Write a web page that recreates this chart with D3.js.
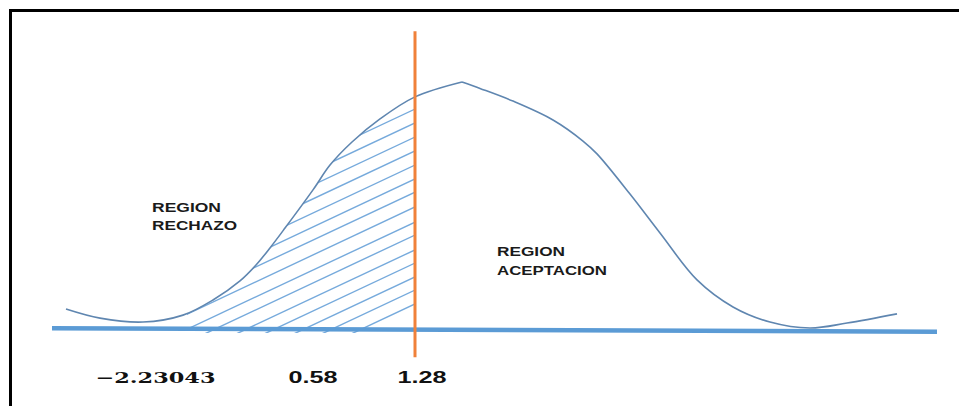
<!DOCTYPE html>
<html><head><meta charset="utf-8">
<script src="https://cdn.jsdelivr.net/npm/d3@7"></script>
<style>body{margin:0;background:#fff} svg{display:block}</style>
</head><body><svg id="c" width="959" height="406"></svg>
<script>
// ---- data (z: position along the axis, v: curve height, 0 = baseline, 100 = peak)
const curveZ = [-3.96,-3.62,-3.19,-2.79,-2.49,-2.22,-2.06,-1.92,-1.77,-1.49,-1.32,-1.10,-0.82,-0.47,0,0.18,0.51,0.91,1.21,1.35,1.68,1.98,2.35,2.71,3.08,3.48,3.85,4.35];
const curveV = [8.5,4.8,3.2,6.0,12.1,19.8,26.2,33.1,41.1,56.5,66.5,75.8,85.1,94.0,100,97.4,92.3,84.7,76.2,71.0,54.8,39.1,20.2,9.3,3.2,0.8,2.8,6.5];
const baselineZ = [-4.1, 4.75];
const baselineV = [0.7, -0.7];
const criticalZ = -0.47;           // orange line (1.28)
const criticalV = [120.5, -11];
const hatchStartZ = -2.75;          // shaded rejection region start
const hatchEndV = [89.1,83.5,77.8,72.2,66.5,60.9,55.6,49.6,43.5,38.3,32.3,27.0,21.4,16.1,10.5];
const tickZ = [-3.07, -1.495, -0.405];
const tickLabels = ["\u22122.23043", "0.58", "1.28"];
const regionLabels = [["REGION","RECHAZO"],["REGION","ACEPTACION"]];
const regionZ = [-3.1, 0.35];
const regionV = [47.6, 29.8];

// ---- scales
const x = d3.scaleLinear().domain([-4, 4]).range([62, 862]);
const y = d3.scaleLinear().domain([0, 100]).range([330, 82]);

const svg = d3.select("#c");
svg.append("rect").attr("width",959).attr("height",406).attr("fill","#fff");
// frame
svg.append("rect").attr("x",10.5).attr("y",10.5).attr("width",970).attr("height",420)
  .attr("fill","none").attr("stroke","#000").attr("stroke-width",3);

const pts = curveZ.map((z,i)=>({z, v: curveV[i]}));
const peakIdx = d3.maxIndex(pts, d=>d.v);
const crv = d3.curveCatmullRom.alpha(0.5);

// clip: area under curve, between hatchStart and critical value
const defs = svg.append("defs");
defs.append("clipPath").attr("id","under").append("path")
  .attr("d", d3.area().x(d=>x(d.z)).y0(y(0)+3).y1(d=>y(d.v)).curve(crv)(pts.slice(0, peakIdx+1)));
defs.append("clipPath").attr("id","band").append("rect")
  .attr("x", x(hatchStartZ)).attr("y", 0).attr("width", x(criticalZ)-x(hatchStartZ)).attr("height", 406);

const slope = 0.47, len = 420;
svg.append("g").attr("clip-path","url(#band)")
  .append("g").attr("clip-path","url(#under)")
  .selectAll("line").data(hatchEndV).join("line")
  .attr("x1", x(criticalZ)).attr("y1", d=>y(d))
  .attr("x2", x(criticalZ)-len).attr("y2", d=>y(d)+len*slope)
  .attr("stroke","#76AADC").attr("stroke-width",1.4);

// curve (two parts for the pointed peak)
const line = d3.line().x(d=>x(d.z)).y(d=>y(d.v)).curve(crv);
[pts.slice(0, peakIdx+1), pts.slice(peakIdx)].forEach(seg=>{
  svg.append("path").attr("d", line(seg)).attr("fill","none")
    .attr("stroke","#5F86B0").attr("stroke-width",1.6);
});

// baseline
svg.append("path")
  .attr("d", d3.line().x(d=>x(d[0])).y(d=>y(d[1]))(baselineZ.map((z,i)=>[z, baselineV[i]])))
  .attr("stroke","#5B9BD5").attr("stroke-width",4.5).attr("fill","none");

// critical line
svg.append("line").attr("x1",x(criticalZ)).attr("x2",x(criticalZ))
  .attr("y1",y(criticalV[0])).attr("y2",y(criticalV[1]))
  .attr("stroke","#F0813A").attr("stroke-width",3);

// axis labels
const ax = svg.append("g").attr("transform","translate(0,383)")
  .call(d3.axisBottom(x).tickValues(tickZ).tickFormat((d,i)=>tickLabels[i]).tickSize(0));
ax.select(".domain").remove();
const tickW = [120, 49, 49];
ax.selectAll("text").attr("y",0).attr("dy",0).attr("fill","#111")
  .attr("font-weight","bold")
  .attr("font-family",(d,i)=> i===0 ? "DejaVu Serif" : "Liberation Sans")
  .attr("font-size",(d,i)=> i===0 ? 15 : 17)
  .attr("textLength",(d,i)=>tickW[i]).attr("lengthAdjust","spacingAndGlyphs");

// region labels
const lw = [[69,85],[68,110]];
regionLabels.forEach((lines,j)=>{
  const t = svg.append("text").attr("font-family","Liberation Sans").attr("font-weight","bold")
    .attr("font-size",13.5).attr("fill","#1a1a1a");
  lines.forEach((s,k)=>{
    t.append("tspan").attr("x", x(regionZ[j])).attr("y", y(regionV[j]) + k*18.5)
      .attr("textLength", lw[j][k]).attr("lengthAdjust","spacingAndGlyphs").text(s);
  });
});
</script></body></html>
